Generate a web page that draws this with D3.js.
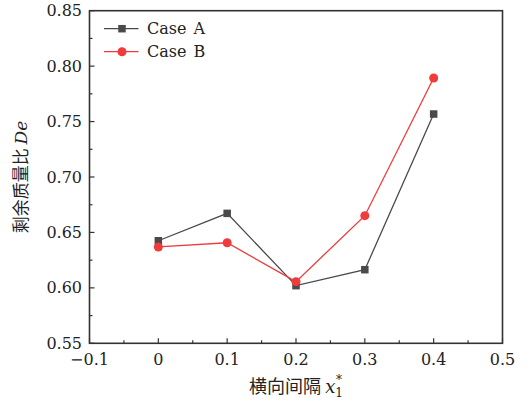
<!DOCTYPE html>
<html><head><meta charset="utf-8">
<script src="https://cdn.jsdelivr.net/npm/d3@7"></script>
<style>body{margin:0;background:#fff;}</style>
</head><body>
<svg id="c" width="526" height="401"></svg>
<script>
const xValues = [0, 0.1, 0.2, 0.3, 0.4];
const caseA = [0.6425, 0.6672, 0.602, 0.6164, 0.7568];
const caseB = [0.6369, 0.6407, 0.6056, 0.6651, 0.7893];
const seriesNames = ["Case A", "Case B"];
const xTicks = [-0.1, 0, 0.1, 0.2, 0.3, 0.4, 0.5];
const xTickLabels = ["\u22120.1", "0", "0.1", "0.2", "0.3", "0.4", "0.5"];
const yTicks = [0.55, 0.60, 0.65, 0.70, 0.75, 0.80, 0.85];
const yTickLabels = ["0.55", "0.60", "0.65", "0.70", "0.75", "0.80", "0.85"];

const SERIF = "DejaVu Serif";
const CJK = "Noto Sans CJK SC";
const svg = d3.select("#c");
const L = 89.5, R = 502.5, T = 10.7, B = 343.3;
const x = d3.scaleLinear().domain([-0.1, 0.5]).range([L, R]);
const y = d3.scaleLinear().domain([0.55, 0.85]).range([B, T]);
const axisColor = "#333";
const cA = "#4a4a4a", cB = "#ef3b3b";

// frame
svg.append("rect").attr("x", L).attr("y", T).attr("width", R - L).attr("height", B - T)
  .attr("fill", "none").attr("stroke", axisColor).attr("stroke-width", 1.6);

// x ticks
const xMinor = d3.range(-0.05, 0.5, 0.1);
const gx = svg.append("g");
gx.selectAll("line.maj").data(xTicks).join("line").attr("class","maj")
  .attr("x1", d => x(d)).attr("x2", d => x(d)).attr("y1", B).attr("y2", B - 5)
  .attr("stroke", axisColor).attr("stroke-width", 1.2);
gx.selectAll("line.min").data(xMinor).join("line").attr("class","min")
  .attr("x1", d => x(d)).attr("x2", d => x(d)).attr("y1", B).attr("y2", B - 3)
  .attr("stroke", axisColor).attr("stroke-width", 1.2);
gx.selectAll("text").data(xTicks).join("text")
  .attr("x", d => x(d)).attr("y", 365)
  .attr("text-anchor", "middle").attr("font-family", SERIF).attr("font-size", 16).attr("fill", "#222")
  .text((d, i) => xTickLabels[i]);

// y ticks
const yMinor = d3.range(0.575, 0.85, 0.05);
const gy = svg.append("g");
gy.selectAll("line.maj").data(yTicks).join("line").attr("class","maj")
  .attr("x1", L).attr("x2", L + 5).attr("y1", d => y(d)).attr("y2", d => y(d))
  .attr("stroke", axisColor).attr("stroke-width", 1.2);
gy.selectAll("line.min").data(yMinor).join("line").attr("class","min")
  .attr("x1", L).attr("x2", L + 3).attr("y1", d => y(d)).attr("y2", d => y(d))
  .attr("stroke", axisColor).attr("stroke-width", 1.2);
gy.selectAll("text").data(yTicks).join("text")
  .attr("x", 82).attr("y", d => y(d) + 5.5)
  .attr("text-anchor", "end").attr("font-family", SERIF).attr("font-size", 16).attr("fill", "#222")
  .text((d, i) => yTickLabels[i]);

// axis titles
const xt = svg.append("text").attr("x", 296).attr("y", 393).attr("text-anchor", "middle")
  .attr("fill", "#222").attr("font-size", 18).attr("font-family", SERIF);
xt.append("tspan").attr("font-family", CJK).text("横向间隔 ");
xt.append("tspan").attr("font-style", "italic").text("x");
xt.append("tspan").attr("font-size", 12).attr("dy", 4).text("1");
xt.append("tspan").attr("font-size", 12).attr("dx", -7).attr("dy", -13).text("*");

const yt = svg.append("text").attr("transform", "translate(27,177) rotate(-90)")
  .attr("text-anchor", "middle").attr("fill", "#222").attr("font-size", 17).attr("font-family", SERIF);
yt.append("tspan").attr("font-family", CJK).text("剩余质量比 ");
yt.append("tspan").attr("font-style", "italic").text("De");

// lines
const line = d3.line().x(d => x(d[0])).y(d => y(d[1]));
const dA = xValues.map((v, i) => [v, caseA[i]]);
const dB = xValues.map((v, i) => [v, caseB[i]]);
svg.append("path").datum(dA).attr("d", line).attr("fill", "none").attr("stroke", cA).attr("stroke-width", 1.3);
svg.append("path").datum(dB).attr("d", line).attr("fill", "none").attr("stroke", cB).attr("stroke-width", 1.3);
const s = 7.5;
svg.selectAll("rect.mA").data(dA).join("rect").attr("class", "mA")
  .attr("x", d => x(d[0]) - s / 2).attr("y", d => y(d[1]) - s / 2)
  .attr("width", s).attr("height", s).attr("fill", cA);
svg.selectAll("circle.mB").data(dB).join("circle").attr("class", "mB")
  .attr("cx", d => x(d[0])).attr("cy", d => y(d[1])).attr("r", 4.5).attr("fill", cB);

// legend
const lg = svg.append("g");
[[cA, 28.7], [cB, 51.7]].forEach(([c, ly], i) => {
  lg.append("line").attr("x1", 104).attr("x2", 138.5).attr("y1", ly).attr("y2", ly)
    .attr("stroke", c).attr("stroke-width", 1.3);
  if (i === 0) lg.append("rect").attr("x", 122 - s / 2).attr("y", ly - s / 2).attr("width", s).attr("height", s).attr("fill", c);
  else lg.append("circle").attr("cx", 122).attr("cy", ly).attr("r", 4.5).attr("fill", c);
  lg.append("text").attr("x", 147).attr("y", ly + 5.5).attr("font-family", SERIF).attr("font-size", 16).attr("fill", "#222")
    .attr("word-spacing", 2).text(seriesNames[i]);
});
</script>
</body></html>
